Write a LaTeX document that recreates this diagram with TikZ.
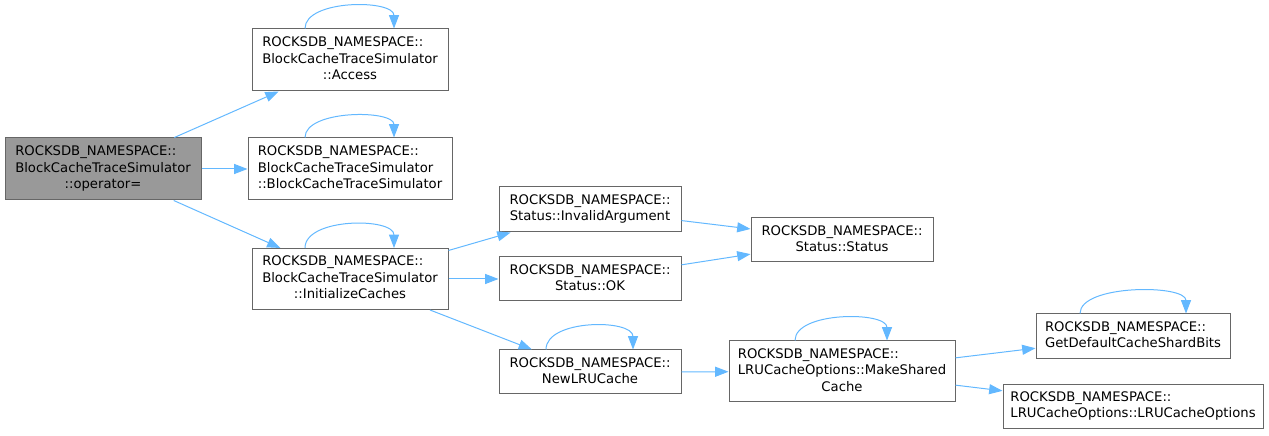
\documentclass[tikz,border=0pt]{standalone}
\usepackage{fontspec}
\setmainfont{DejaVu Sans}
\usetikzlibrary{arrows.meta}
\definecolor{edgeblue}{HTML}{63B8FF}
\definecolor{boxgray}{HTML}{666666}
\definecolor{nodegray}{HTML}{999999}
\newcommand{\fnlabel}[2]{\begin{tabular}{@{}l@{}}#1\\\multicolumn{1}{@{}c@{}}{#2}\end{tabular}}
\tikzset{
  fn/.style={draw=boxgray, line width=0.75pt, fill=white, inner sep=0pt,
    font=\fontsize{9.9}{12.3}\selectfont},
  call/.style={draw=edgeblue, line width=0.75pt,
    -{Triangle[length=10pt,width=7.5pt]}},
}
\begin{document}
\begin{tikzpicture}[x=0.75pt,y=0.75pt]
      \useasboundingbox (0,0) rectangle (1269,435);
      \node[fn, fill=nodegray, minimum width=147pt, minimum height=46.5pt] (op) at (103,266)
        {\fnlabel{ROCKSDB\_NAMESPACE::\\BlockCacheTraceSimulator}{::operator=}};
      \node[fn, minimum width=147pt, minimum height=46.5pt] (acc) at (350,375)
        {\fnlabel{ROCKSDB\_NAMESPACE::\\BlockCacheTraceSimulator}{::Access}};
      \node[fn, minimum width=153pt, minimum height=46.5pt] (ctor) at (350,266)
        {\fnlabel{ROCKSDB\_NAMESPACE::\\BlockCacheTraceSimulator}{::BlockCacheTraceSimulator}};
      \node[fn, minimum width=147pt, minimum height=45.75pt] (init) at (350,156)
        {\fnlabel{ROCKSDB\_NAMESPACE::\\BlockCacheTraceSimulator}{::InitializeCaches}};
      \node[fn, minimum width=136.5pt, minimum height=33.75pt] (inv) at (590,225.5)
        {\fnlabel{ROCKSDB\_NAMESPACE::}{Status::InvalidArgument}};
      \node[fn, minimum width=136.5pt, minimum height=33pt] (ok) at (590,156)
        {\fnlabel{ROCKSDB\_NAMESPACE::}{Status::OK}};
      \node[fn, minimum width=136.5pt, minimum height=33pt] (stat) at (842,195)
        {\fnlabel{ROCKSDB\_NAMESPACE::}{Status::Status}};
      \node[fn, minimum width=136.5pt, minimum height=33pt] (newlru) at (590,63)
        {\fnlabel{ROCKSDB\_NAMESPACE::}{NewLRUCache}};
      \node[fn, minimum width=169.5pt, minimum height=45.75pt] (mksh) at (842,63.5)
        {\fnlabel{ROCKSDB\_NAMESPACE::\\LRUCacheOptions::MakeShared}{Cache}};
      \node[fn, minimum width=145.5pt, minimum height=33.75pt] (gdef) at (1133,98.5)
        {\fnlabel{ROCKSDB\_NAMESPACE::}{GetDefaultCacheShardBits}};
      \node[fn, minimum width=195pt, minimum height=32.25pt] (lruo) at (1133,28.5)
        {\fnlabel{ROCKSDB\_NAMESPACE::}{LRUCacheOptions::LRUCacheOptions}};
      % calls
      \draw[call] (op) -- (acc);
      \draw[call] (op) -- (ctor);
      \draw[call] (op) -- (init);
      \draw[call] (init) -- (inv);
      \draw[call] (init) -- (ok);
      \draw[call] (init) -- (newlru);
      \draw[call] (inv) -- (stat);
      \draw[call] (ok) -- (stat);
      \draw[call] (newlru) -- (mksh);
      \draw[call] (mksh) -- (gdef);
      \draw[call] (mksh) -- (lruo);
      % recursive calls
      \draw[call] ([xshift=-33.75pt]acc.north) .. controls +(0,22pt) and +(0,22pt) .. ([xshift=33pt]acc.north);
      \draw[call] ([xshift=-33.75pt]ctor.north) .. controls +(0,21pt) and +(0,21pt) .. ([xshift=33pt]ctor.north);
      \draw[call] ([xshift=-33.75pt]init.north) .. controls +(0,23pt) and +(0,23pt) .. ([xshift=33pt]init.north);
      \draw[call] ([xshift=-33pt]newlru.north) .. controls +(0,23pt) and +(0,23pt) .. ([xshift=32.25pt]newlru.north);
      \draw[call] ([xshift=-35.25pt]mksh.north) .. controls +(0,22pt) and +(0,22pt) .. ([xshift=33.75pt]mksh.north);
      \draw[call] ([xshift=-39.75pt]gdef.north) .. controls +(0,22pt) and +(0,22pt) .. ([xshift=39.75pt]gdef.north);
    \end{tikzpicture}
\end{document}
